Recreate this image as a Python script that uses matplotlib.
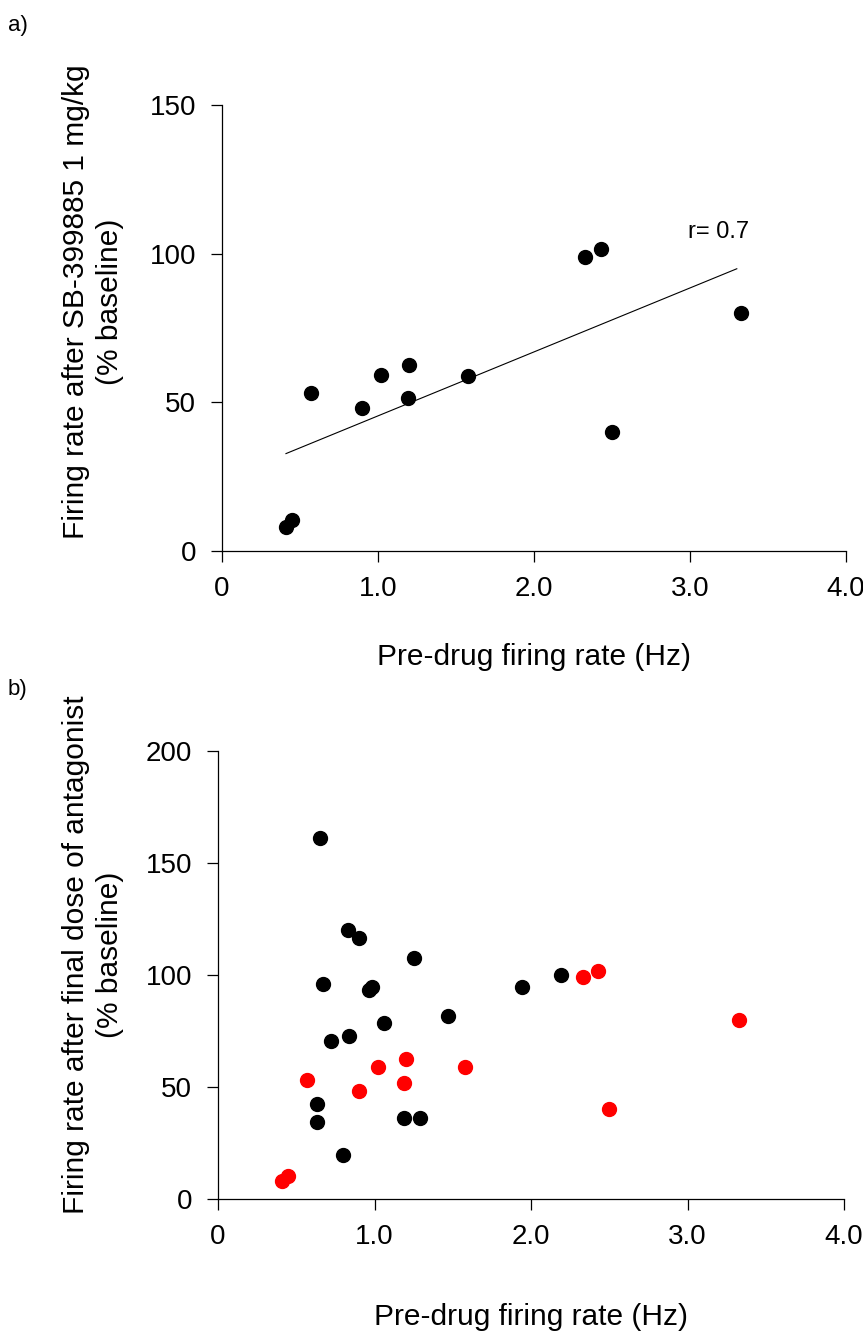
import numpy as np
import matplotlib.pyplot as plt

plt.rcParams['font.family'] = ['Liberation Sans', 'DejaVu Sans']

# SB-399885 responsive cells (panel a, red in panel b)
pre_rate_sb = [0.41, 0.45, 0.57, 0.90, 1.02, 1.19, 1.20, 1.58, 2.33, 2.43, 2.50, 3.33]
post_sb = [8.2, 10.4, 53.0, 48.1, 59.1, 51.6, 62.6, 58.9, 98.9, 101.6, 40.1, 80.0]

# other cells, final dose of antagonist (black in panel b)
pre_rate_other = [0.65, 0.83, 0.90, 1.25, 0.67, 0.965, 0.985, 2.19, 1.94, 1.47,
                  1.06, 0.84, 0.72, 0.63, 0.63, 1.19, 1.29, 0.80]
post_other = [161.2, 120.1, 116.6, 107.7, 95.9, 93.5, 94.8, 100.0, 94.5, 81.9,
              78.4, 72.8, 70.7, 42.5, 34.2, 36.2, 36.1, 19.8]

r_text = "r= 0.7"
xticks = [0, 1, 2, 3, 4]
xticklabels = ["0", "1.0", "2.0", "3.0", "4.0"]

W, H = 863, 1332
fig = plt.figure(figsize=(W / 100, H / 100), dpi=100)


def style(ax, ymax):
    ax.set_xlim(0, 4)
    ax.set_ylim(0, ymax)
    ax.spines['top'].set_visible(False)
    ax.spines['right'].set_visible(False)
    for s in ['left', 'bottom']:
        ax.spines[s].set_linewidth(0.9)
    ax.set_xticks(xticks)
    ax.set_xticklabels(xticklabels)
    ax.set_yticks(np.arange(0, ymax + 1, 50))
    ax.tick_params(axis='x', direction='out', length=8, width=0.9, pad=10, labelsize=20)
    ax.tick_params(axis='y', direction='out', length=8, width=0.9, pad=10.5, labelsize=20)


# panel a
ax1 = fig.add_axes([222 / W, 1 - 551 / H, 624 / W, 446 / H])
style(ax1, 150)
ax1.scatter(pre_rate_sb, post_sb, s=100, color='black', zorder=3, clip_on=False)
k, b = np.polyfit(pre_rate_sb, post_sb, 1)
xl = np.array([min(pre_rate_sb), 3.30])
ax1.plot(xl, k * xl + b, color='black', lw=0.8)
ax1.text(2.99, 107.3, r_text, fontsize=17, ha='left', va='center')
ax1.set_xlabel("Pre-drug firing rate (Hz)", fontsize=21.5)
ax1.xaxis.set_label_coords(0.5, (551 - 643) / 446)
ax1.set_ylabel("Firing rate after SB-399885 1 mg/kg\n(% baseline)", fontsize=21.5,
               linespacing=1.28)
ax1.yaxis.set_label_coords((124 - 222) / 624, (551 - 302) / 446)
fig.text(8 / W, 1 - 25 / H, "a)", fontsize=16, ha='left', va='center')

# panel b
ax2 = fig.add_axes([218 / W, 1 - 1199 / H, 626 / W, 448 / H])
style(ax2, 200)
ax2.scatter(pre_rate_other, post_other, s=100, color='black', zorder=3, clip_on=False)
ax2.scatter(pre_rate_sb, post_sb, s=100, color='red', zorder=3, clip_on=False)
ax2.set_xlabel("Pre-drug firing rate (Hz)", fontsize=21.5)
ax2.xaxis.set_label_coords(0.5, (1199 - 1303) / 448)
ax2.set_ylabel("Firing rate after final dose of antagonist\n(% baseline)", fontsize=21.5,
               linespacing=1.28)
ax2.yaxis.set_label_coords((124 - 218) / 626, (1199 - 955) / 448)
fig.text(8 / W, 1 - 690 / H, "b)", fontsize=16, ha='left', va='center')

fig.savefig("out.png", dpi=100)
